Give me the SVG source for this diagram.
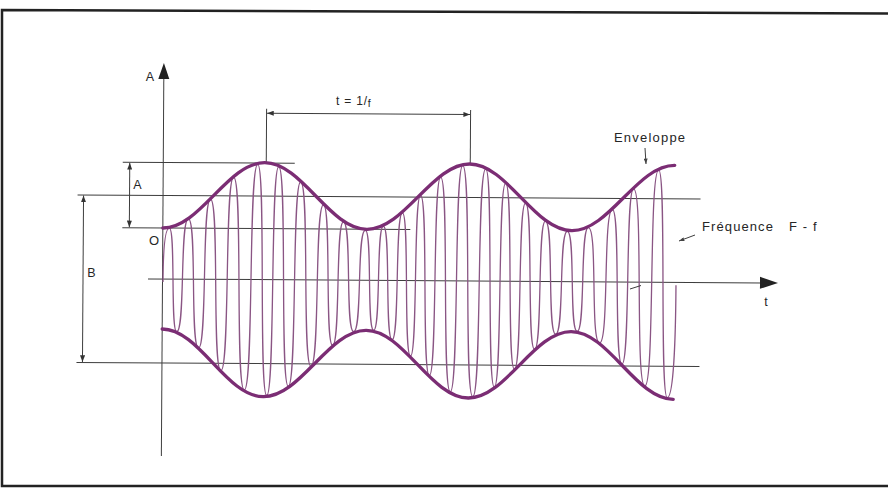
<svg xmlns="http://www.w3.org/2000/svg" width="888" height="489" viewBox="0 0 888 489">
<defs>
<style>
.ln{stroke:#3d3d3d;stroke-width:1;fill:none}
.env{stroke:#7b2d74;stroke-width:3.3;fill:none;stroke-linecap:round;stroke-linejoin:round}
.car{stroke:#8a5584;stroke-width:1.3;fill:none;stroke-linejoin:round}
.tx{font-family:"Liberation Sans",Arial,sans-serif;fill:#262626}
</style>
<marker id="ah" viewBox="0 0 8 6" refX="8" refY="3" markerWidth="7" markerHeight="5" orient="auto-start-reverse" markerUnits="userSpaceOnUse"><path d="M0,0 L8,3 L0,6 z" fill="#333"/></marker>
<marker id="sa" viewBox="0 0 8 6" refX="8" refY="3" markerWidth="6" markerHeight="4" orient="auto" markerUnits="userSpaceOnUse"><path d="M0,0 L8,3 L0,6 z" fill="#444"/></marker>
</defs>
<rect width="888" height="489" fill="#ffffff"/>
<g id="frame"><path d="M888,13.5 L2,10 L2,486 L888,486" fill="none" stroke="#222" stroke-width="2.5"/></g>
<g id="chart" transform="rotate(0.37 160 280)">
<g id="axes">
<line class="ln" x1="162.5" y1="78" x2="162.5" y2="456" stroke-width="1.3"/>
<polygon points="162.5,63 157,79 168,79" fill="#222"/>
<line class="ln" x1="148" y1="279" x2="762" y2="279" stroke-width="1.3"/>
<polygon points="778,279 760,273 760,285" fill="#222"/>
</g>
<g id="reference-lines">
<line class="ln" x1="122" y1="162.5" x2="294" y2="162.5"/>
<line class="ln" x1="77" y1="195.5" x2="700" y2="195.5"/>
<line class="ln" x1="122" y1="228" x2="410" y2="228"/>
<line class="ln" x1="77" y1="363" x2="700" y2="363"/>
</g>
<g id="connectors">
<line class="ln" x1="129" y1="163" x2="129" y2="227.5" marker-start="url(#ah)" marker-end="url(#ah)"/>
<line class="ln" x1="83" y1="196" x2="83" y2="362.5" marker-start="url(#ah)" marker-end="url(#ah)"/>
<line class="ln" x1="265.5" y1="108" x2="265.5" y2="162"/>
<line class="ln" x1="469.5" y1="108" x2="469.5" y2="162"/>
<line class="ln" x1="266" y1="112.5" x2="469" y2="112.5" marker-start="url(#ah)" marker-end="url(#ah)"/>
</g>
<g id="carrier">
<path class="car" d="M163,282 C163,245 165,228 169,228 C175.4,228 170.6,331.7 177,331.7 C185.8,331.7 179.2,218.7 188,218.7 C196.8,218.7 190.2,347.8 199,347.8 C207.8,347.8 201.2,198.8 210,198.8 C219.2,198.8 212.3,370.4 221.5,370.4 C230.7,370.4 223.8,176.8 233,176.8 C242.6,176.8 235.4,389.5 245,389.5 C254.6,389.5 247.4,163.8 257,163.8 C265.4,163.8 259.1,394.8 267.5,394.8 C275.9,394.8 269.6,166 278,166 C286.8,166 280.2,385.6 289,385.6 C297.8,385.6 291.2,181.1 300,181.1 C309.2,181.1 302.3,365.3 311.5,365.3 C320.7,365.3 313.8,203.8 323,203.8 C331,203.8 325,344.2 333,344.2 C341,344.2 335,220.8 343,220.8 C351.8,220.8 345.2,330.4 354,330.4 C362.8,330.4 356.2,229 365,229 C372.2,229 366.8,328.9 374,328.9 C381.2,328.9 375.8,224.8 383,224.8 C390.6,224.8 384.9,338.2 392.5,338.2 C400.1,338.2 394.4,211.3 402,211.3 C409.2,211.3 403.8,354.5 411,354.5 C418.2,354.5 412.8,193.7 420,193.7 C428,193.7 422,373.8 430,373.8 C438,373.8 432,175.3 440,175.3 C448.8,175.3 442.2,390 451,390 C459.8,390 453.2,163.7 462,163.7 C471.2,163.7 464.3,394.7 473.5,394.7 C482.7,394.7 475.8,166.9 485,166.9 C493,166.9 487,384.9 495,384.9 C503,384.9 497,181.1 505,181.1 C513,181.1 507,366.9 515,366.9 C523,366.9 517,200.8 525,200.8 C533,200.8 527,346.8 535,346.8 C543,346.8 537,218.7 545,218.7 C553.8,218.7 547.2,331.7 556,331.7 C564.8,331.7 558.2,228.7 567,228.7 C575.4,228.7 569.1,328.6 577.5,328.6 C585.9,328.6 579.6,224.8 588,224.8 C597.6,224.8 590.4,340.1 600,340.1 C609.6,340.1 602.4,206.7 612,206.7 C620.4,206.7 614.1,361.2 622.5,361.2 C630.9,361.2 624.6,185.8 633,185.8 C643,185.8 635.5,383 645.5,383 C655.5,383 648,166.9 658,166.9 C666,166.9 660,394.4 668,394.4 C674,394.4 676,340 676,282"/>
</g>
<g id="envelope">
<path class="env" d="M162.5,228 C199.9,228 226.6,162 264,162 C301.4,162 329.1,228 366.5,228 C403.9,228 431.6,162 469,162 C506.4,162 534.1,228 571.5,228 C608.9,228 636.6,162 674,162"/>
<path class="env" d="M162.5,329 C199.9,329 226.6,396 264,396 C301.4,396 329.1,329 366.5,329 C403.9,329 431.6,396 469,396 C506.4,396 534.1,329 571.5,329 C608.9,329 636.6,396 674,396"/>
</g>
</g>
<g id="annotations">
<line class="ln" x1="645" y1="148" x2="646" y2="164" marker-end="url(#sa)"/>
<line class="ln" x1="695" y1="235" x2="679" y2="241" marker-end="url(#sa)"/>
<line class="ln" x1="630" y1="289" x2="641" y2="285.5" stroke="#6a4466"/>
</g>
<g id="labels" class="tx">
<text x="150" y="81" text-anchor="middle" font-size="12.5">A</text>
<text x="137.5" y="189" text-anchor="middle" font-size="12.5">A</text>
<text x="154" y="245" text-anchor="middle" font-size="13">O</text>
<text x="91.5" y="277" text-anchor="middle" font-size="12.5">B</text>
<text x="766" y="306" text-anchor="middle" font-size="12.5">t</text>
<text x="336" y="105" font-size="12" letter-spacing="0.8">t = 1/<tspan font-size="10.5" dy="2">f</tspan></text>
<text x="614" y="142" font-size="13" letter-spacing="1.2">Enveloppe</text>
<text x="702" y="231" font-size="13" letter-spacing="1.1">Fréquence</text>
<text x="789" y="231" font-size="13" letter-spacing="1.1">F - f</text>
</g>
</svg>
